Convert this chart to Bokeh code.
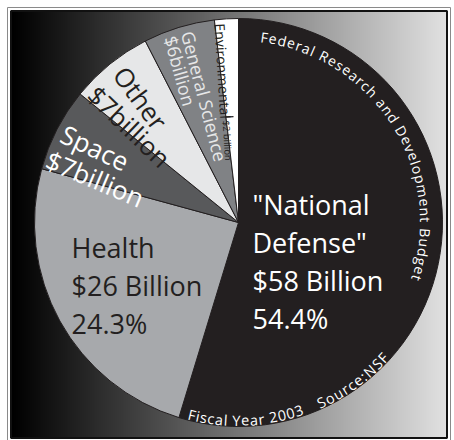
import numpy as np
from bokeh.plotting import figure
from bokeh.models import Range1d, LinearColorMapper, ColumnDataSource
from bokeh.core.properties import value
from bokeh.embed import file_html
from bokeh.resources import INLINE

# ---------------- data ----------------
categories = ["National Defense", "Health", "Space", "Other", "General Science", "Environmental"]
budget_billion = [58, 26, 7, 7, 6, 2]
slice_colors = ["#231f20", "#a7a9ac", "#58595b", "#e6e7e8", "#808285", "#ffffff"]
defense_lines = ['"National', 'Defense"', '$58 Billion', '54.4%']
health_lines = ['Health', '$26 Billion', '24.3%']
space_lines = ['Space', '$7billion']
other_lines = ['Other', '$7billion']
science_lines = ['General Science', '$6billion']
env_lines = ['Environmental', '$2 billion']
title_text = "Federal Research and Development Budget"
year_text = "Fiscal Year 2003"
source_text = "Source:NSF"

FONT = "Open Sans"
W, H = 454, 440

def Y(ypx):
    return H - ypx

p = figure(width=W, height=H, x_range=Range1d(0, W), y_range=Range1d(0, H),
           output_backend="svg", toolbar_location=None, min_border=0,
           x_axis_location=None, y_axis_location=None)
p.grid.visible = False
p.outline_line_color = None
p.background_fill_color = "white"
p.border_fill_color = "white"

# ---------------- frame + gradient background ----------------
p.quad(left=7, right=450, top=Y(7), bottom=Y(441), fill_color=None,
       line_color="#8a8a8a", line_width=1)
gx0, gx1, gy0, gy1 = 11, 446, 11, 437
ncol = gx1 - gx0
grad = np.linspace(0, 224, ncol).reshape(1, ncol)
gray_palette = ["#%02x%02x%02x" % (i, i, i) for i in range(256)]
mapper = LinearColorMapper(palette=gray_palette, low=0, high=255)
p.image(image=[grad], x=gx0, y=Y(gy1), dw=gx1 - gx0, dh=gy1 - gy0, color_mapper=mapper)
p.quad(left=10.5, right=446.5, top=Y(10.5), bottom=Y(437.5), fill_color=None,
       line_color="#111111", line_width=2)

# ---------------- pie ----------------
cx, cy, R = 238, 222, 204
cyd = Y(cy)
vals = np.array(budget_billion, dtype=float)
frac = vals / vals.sum()
theta_end = np.cumsum(frac) * 2 * np.pi          # clockwise from 12 o'clock
theta_start = theta_end - frac * 2 * np.pi
src = ColumnDataSource(dict(cat=categories, color=slice_colors,
                            start=np.pi / 2 - theta_end, end=np.pi / 2 - theta_start))
p.wedge(x=cx, y=cyd, radius=R, start_angle="start", end_angle="end",
        fill_color="color", line_color="#231f20", line_width=1, source=src)

# ---------------- block labels ----------------
def block(lines, x0, base0, step, size, color):
    p.text(x=[x0] * len(lines), y=[Y(base0 + i * step) for i in range(len(lines))],
           text=lines, text_font=value(FONT), text_font_size=f"{size}px",
           text_color=color, text_align="left", text_baseline="alphabetic")

block(defense_lines, 252, 203.5, 38.3, 27, "#ffffff")
block(health_lines, 71, 247, 38.2, 27, "#231f20")

# ---------------- rotated labels: (start px x, start px y, clockwise tilt deg) ----------------
def rotated(lines, anchors, size, color):
    p.text(x=[a[0] for a in anchors], y=[Y(a[1]) for a in anchors], text=lines,
           angle=[-np.radians(a[2]) for a in anchors], text_font=value(FONT),
           text_font_size=f"{size}px", text_color=color,
           text_align="left", text_baseline="alphabetic")

rotated(space_lines, [(62, 132, 25), (47, 158, 23)], 26, "#ffffff")
rotated(other_lines, [(119, 69, 53.5), (91.6, 90, 44)], 26, "#231f20")
rotated(science_lines, [(187, 31, 75.5), (170, 36, 74.5)], 18, "#e6e7e8")
rotated([env_lines[0]], [(219.5, 23, 86.6)], 14, "#231f20")
rotated([env_lines[1]], [(225.6, 120, 86.6)], 9.5, "#231f20")
p.line(x=[225.2, 233], y=[Y(116.6), Y(116.2)], line_color="#231f20", line_width=1.2)

# ---------------- curved texts ----------------
CW = {' ': .260, 'F': .516, 'R': .631, 'S': .549, 'N': .767, 'Y': .557, 'B': .648,
      'D': .729, 'a': .561, 'c': .480, 'd': .613, 'e': .561, 'g': .548, 'h': .614,
      'i': .253, 'l': .253, 'm': .930, 'n': .614, 'o': .604, 'p': .613, 'r': .408,
      's': .477, 't': .353, 'u': .614, 'v': .501, '0': .572, '2': .572, '3': .572,
      ':': .266}

def arc_text(s, size, r, a0deg, a1deg, color):
    a0, a1 = np.radians(a0deg), np.radians(a1deg)
    widths = [CW.get(c, .55) * size for c in s]
    L = r * abs(a1 - a0)
    track = (L - sum(widths)) / (len(s) - 1)
    sign = 1 if a1 > a0 else -1
    pos = 0.0
    xs, ys, angs, txt = [], [], [], []
    for c, w in zip(s, widths):
        a = a0 + sign * (pos + w / 2) / r
        pos += w + track
        if c == ' ':
            continue
        xs.append(cx + r * np.cos(a)); ys.append(cyd + r * np.sin(a))
        angs.append(a + sign * np.pi / 2); txt.append(c)
    p.text(x=xs, y=ys, text=txt, angle=angs, text_font=value(FONT),
           text_font_size=f"{size}px", text_color=color,
           text_align="center", text_baseline="alphabetic")

arc_text(title_text, 14, 187, 90 - 6.8, 90 - 108, "#ffffff")
arc_text(year_text, 14.5, 198, -104.7, -71, "#ffffff")
arc_text(source_text, 14.5, 198, -66.4, -42, "#ffffff")

open("out.html", "w").write(file_html(p, INLINE))
